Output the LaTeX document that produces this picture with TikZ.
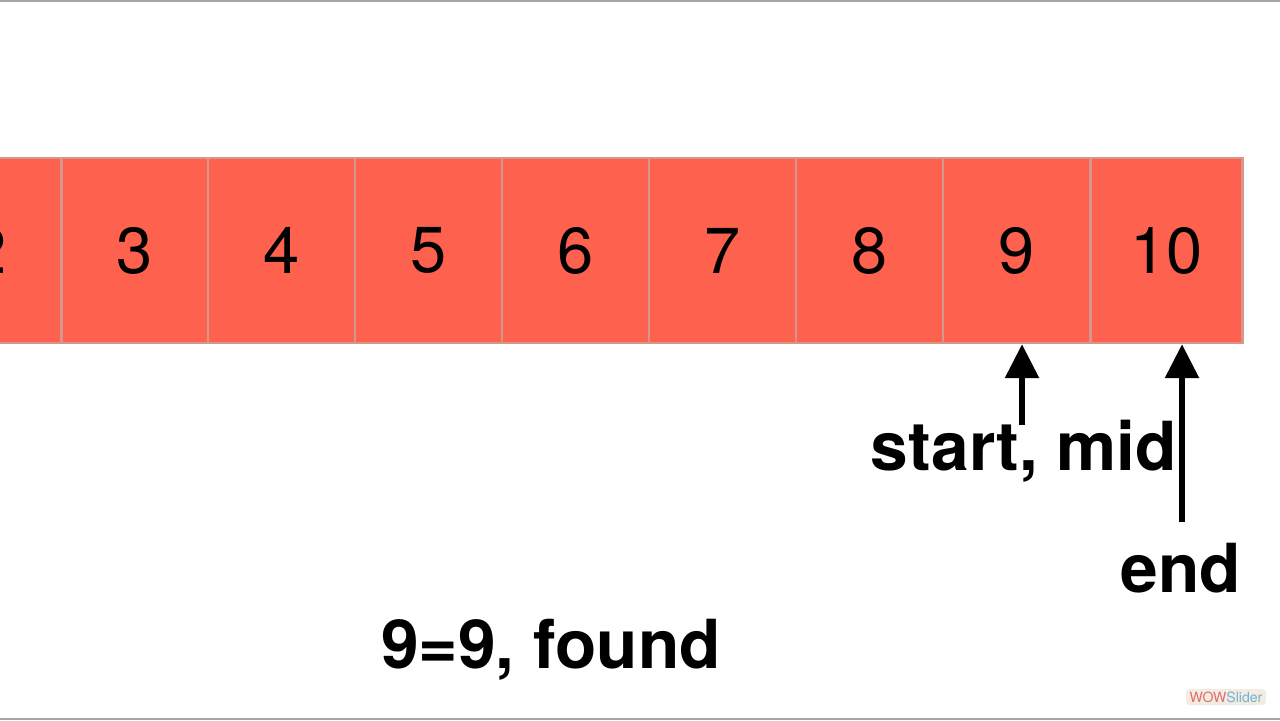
\documentclass[tikz,border=0pt]{standalone}
\usepackage{fontspec}
\setmainfont{TeX Gyre Heros}
\usepackage{tikz}
\usetikzlibrary{arrows.meta}

\definecolor{cellred}{RGB}{254,98,78}
\definecolor{cellline}{RGB}{215,150,140}
\definecolor{wowred}{RGB}{226,108,108}
\definecolor{wowblue}{RGB}{112,180,212}
\definecolor{wowback}{RGB}{242,236,226}

\begin{document}
\begin{tikzpicture}[x=0.02cm,y=-0.02cm]
    \tikzset{cell/.style = {shape=rectangle,draw=cellline,line width=1.4pt,fill=cellred,
        minimum width=2.94cm,minimum height=3.7cm,inner sep=0pt,
        font=\fontsize{37}{40}\selectfont}}
    \tikzset{lbl/.style = {inner sep=0pt,anchor=base,font=\fontsize{38.5}{42}\selectfont\bfseries}}
    \tikzset{pointer/.style = {-{Triangle[length=0.68cm,width=0.66cm]},line width=3.4pt}}
    \clip (0,0) rectangle (1280,720);
    \fill[white] (0,0) rectangle (1280,720);
    \draw[gray!70,line width=1.2pt] (0,1) -- (1280,1);
    \draw[gray!70,line width=1.2pt] (0,719) -- (1280,719);
    % cells
    \node[cell] (c2) at (-11.5,250.5) {2};
    \node[cell] (c3) at (135,250.5) {3};
    \node[cell] (c4) at (281.5,250.5) {4};
    \node[cell] (c5) at (428.5,250.5) {5};
    \node[cell] (c6) at (575.5,250.5) {6};
    \node[cell] (c7) at (722.5,250.5) {7};
    \node[cell] (c8) at (869.5,250.5) {8};
    \node[cell] (c9) at (1016.5,250.5) {9};
    \node[cell,minimum width=3.04cm] (c10) at (1166.5,250.5) {10};
    % labels
    \node[lbl] (startmid) at (1024,470) {start, mid};
    \node[lbl] (endlbl) at (1181,592) {end};
    \node[lbl] (found) at (551,668) {9=9, found};
    % pointers
    \coordinate (midtail) at (1022,425);
    \coordinate (endtail) at (1182,522);
    \draw[pointer] (midtail) -- (midtail |- c9.south);
    \draw[pointer] (endtail) -- (endtail |- c10.south);
    % watermark
    \node[fill=wowback,rounded corners=2pt,inner xsep=2pt,inner ysep=1.5pt,
        font=\fontsize{8}{9}\selectfont] (wow) at (1226,697)
        {\textcolor{wowred}{WOW}\textcolor{wowblue}{Slider}};
\end{tikzpicture}
\end{document}
